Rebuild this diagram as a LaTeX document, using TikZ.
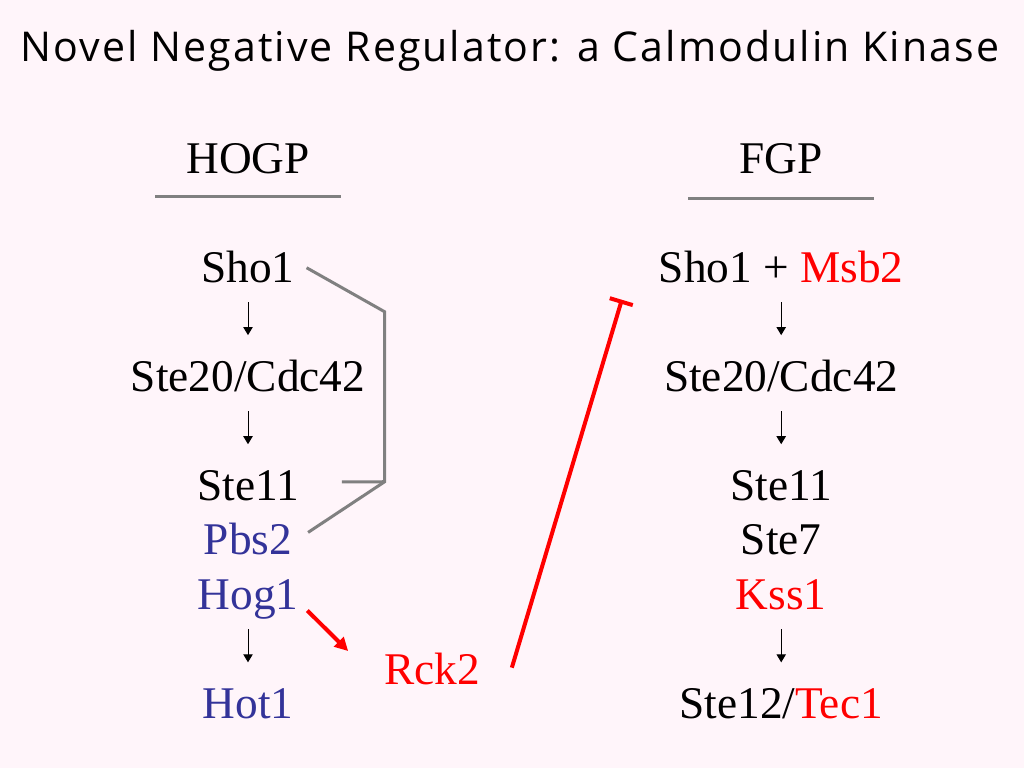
\documentclass[tikz,border=0pt]{standalone}
\usepackage{fontspec}
\setmainfont{Liberation Serif}
\newfontfamily\titlefont[LetterSpace=5]{Open Sans}
\usetikzlibrary{matrix,arrows.meta}
\definecolor{slidebg}{RGB}{255,245,250}
\definecolor{hogblue}{RGB}{51,51,153}
\definecolor{rulegray}{RGB}{128,128,128}
\tikzset{gene/.style={outer sep=0pt,inner sep=0pt,text height=24pt,text depth=8.5pt,font=\fontsize{34}{40}\selectfont}}
\def\Pathways{
    \matrix (pathways)
    [matrix of nodes,
    nodes in empty cells,
    ampersand replacement=\&,
    matrix anchor=pathways-1-1.base,
    column sep={220.3pt},
    row sep={8.4pt},
    nodes={gene}] at (248,173)
    {
     HOGP \& FGP \\
     \& \\
     Sho1 \& Sho1 + \textcolor{red}{Msb2} \\
     \& \\
     Ste20/Cdc42 \& Ste20/Cdc42 \\
     \& \\
     Ste11 \& Ste11 \\
     |[text=hogblue]| Pbs2 \& Ste7 \\
     |[text=hogblue]| Hog1 \& |[text=red]| Kss1 \\
     \& \\
     |[text=hogblue]| Hot1 \& Ste12/\textcolor{red}{Tec1} \\
};
}

\begin{document}
\begin{tikzpicture}[x=0.75pt,y=-0.75pt,
    down/.style={-{Triangle[length=6pt,width=7pt]},line width=0.75pt,shorten <=6.5pt,shorten >=18pt},
    bracket/.style={rulegray,line width=2.25pt},
    act/.style={red,line width=3pt,-{Triangle[length=10pt,width=10pt]}},
    inhib/.style={red,line width=3pt,-{Bar[width=18pt]}}]
    \fill[slidebg] (0,0) rectangle (1024,768);
    \node[anchor=base,font=\titlefont\fontsize{30.8}{35}\selectfont] (title) at (510,61) {Novel Negative Regulator: a Calmodulin Kinase};
    \Pathways
    \node[gene,anchor=base,text=red] (rck2) at (432,684) {Rck2};
    % header rules
    \draw[bracket] ([shift={(-93,12)}]pathways-1-1.south) -- ([shift={(93,12)}]pathways-1-1.south);
    \draw[bracket] ([shift={(-93,14)}]pathways-1-2.south) -- ([shift={(93,14)}]pathways-1-2.south);
    % HOGP steps
    \draw[down] (pathways-3-1.south) -- (pathways-5-1.north);
    \draw[down] (pathways-5-1.south) -- (pathways-7-1.north);
    \draw[down] (pathways-9-1.south) -- (pathways-11-1.north);
    % FGP steps
    \draw[down] (pathways-3-2.south) -- (pathways-5-2.north);
    \draw[down] (pathways-5-2.south) -- (pathways-7-2.north);
    \draw[down] (pathways-9-2.south) -- (pathways-11-2.north);
    % shared branch
    \draw[bracket] ([shift={(12,-4)}]pathways-3-1.east) -- ++(78,44) coordinate (top) -- ++(0,170) coordinate (knee) -- ([shift={(16,-12)}]pathways-8-1.east);
    \draw[bracket] ([shift={(43,-8)}]pathways-7-1.east) -- (knee);
    % Rck2
    \draw[act] ([shift={(9,-10)}]pathways-9-1.south east) -- ([shift={(-36,-1)}]rck2.north west);
    \draw[inhib] ([shift={(32,-6)}]rck2.east) -- ([shift={(-37,28)}]pathways-3-2.west);
\end{tikzpicture}
\end{document}
